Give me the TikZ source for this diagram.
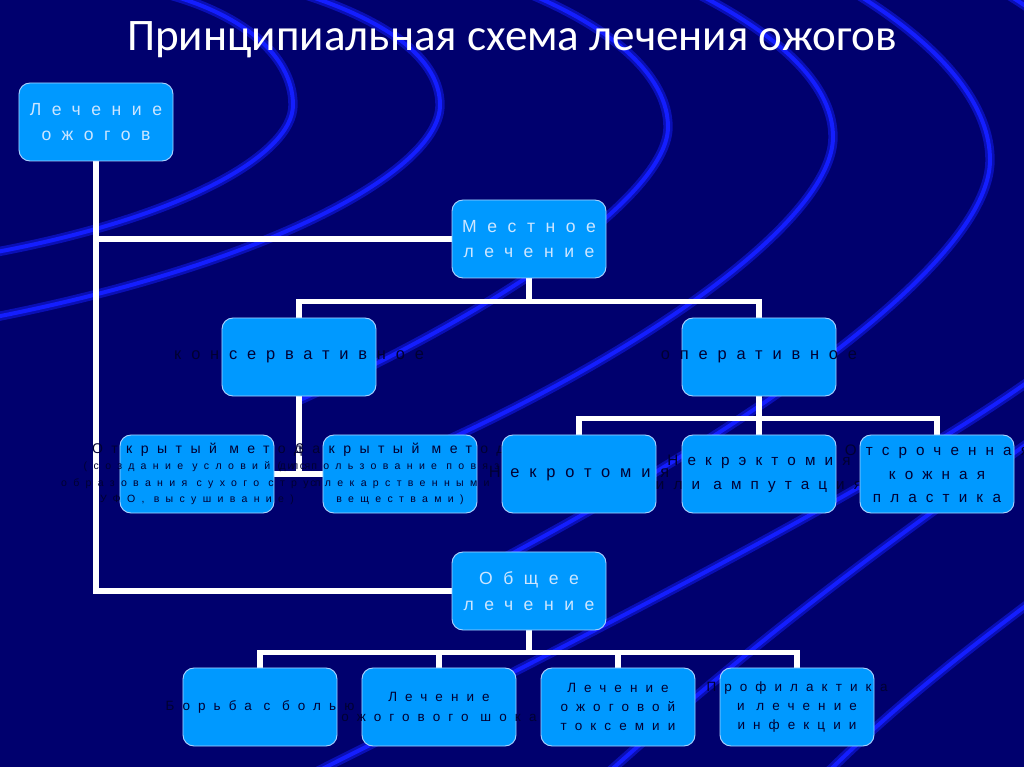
\documentclass[tikz,border=0pt]{standalone}
\usepackage{fontspec}
\setmainfont{Liberation Sans}
\newfontfamily\titlefont{Carlito}
\newfontfamily\boxfont[LetterSpace=60]{Liberation Sans}
\usetikzlibrary{backgrounds}

\definecolor{bgnavy}{RGB}{0,0,110}
\definecolor{boxfill}{RGB}{0,153,255}
\definecolor{boxedge}{RGB}{170,210,255}
\definecolor{boxdark}{RGB}{0,0,50}
\definecolor{boxlight}{RGB}{205,230,255}
\definecolor{swirlblue}{RGB}{20,30,255}
\definecolor{swirlglow}{RGB}{10,15,180}

% overflowing line of box text
\newcommand{\spill}[1]{\makebox[0pt][c]{#1}}
\newcommand{\smalltxt}{\fontsize{9}{13}\selectfont}

\begin{document}
\begin{tikzpicture}[
    x=0.03cm, y=-0.03cm,
    box/.style={draw=boxedge, line width=0.8pt, fill=boxfill,
                rounded corners=0.33cm, minimum width=4.62cm,
                minimum height=2.34cm, inner sep=0pt, align=center,
                text=boxdark, font=\boxfont\fontsize{14}{20}\selectfont},
    headbox/.style={box, text=boxlight,
                    font=\boxfont\fontsize{15}{22}\selectfont},
    opbox/.style={box, font=\boxfont\fontsize{13}{20}\selectfont},
    methodbox/.style={box, font=\boxfont\fontsize{12}{14}\selectfont},
    subbox/.style={box, font=\boxfont\fontsize{11.5}{16.5}\selectfont},
    link/.style={draw=white, line width=5pt},
    swirl/.style={draw=swirlblue, line width=3.4pt,
                  preaction={draw=swirlglow, line width=8pt}},
  ]
  \useasboundingbox (0,0) rectangle (1024,767);

  % ── Title ──
  \node[text=white, font=\titlefont\fontsize{38.5}{42}\selectfont]
    at (512,40) (title) {Принципиальная схема лечения ожогов};

  % ── Level 0 ──
  \node[headbox] at (96,122) (root) {Лечение\\ожогов};

  % ── Local treatment ──
  \node[headbox] at (529,239) (local) {Местное\\лечение};
  \node[box] at (299,357) (konserv) {\spill{консервативное}};
  \node[box] at (759,357) (operat) {\spill{оперативное}};

  \node[methodbox] at (197,474) (open)
    {\spill{Открытый метод}\\
     \spill{\smalltxt(создание условий для}\\
     \spill{\smalltxt образования сухого струпа}\\
     \spill{\smalltxt УФО, высушивание)}};
  \node[methodbox] at (400,474) (closed)
    {\spill{Закрытый метод}\\
     \spill{\smalltxt(использование повязок}\\
     \spill{\smalltxt с лекарственными}\\
     \spill{\smalltxt веществами)}};

  \node[box] at (579,474) (necrot) {\spill{Некротомия}};
  \node[opbox] at (759,474) (necrect)
    {\spill{Некрэктомия}\\\spill{или ампутация}};
  \node[opbox] at (937,474) (otsroch)
    {\spill{Отсроченная}\\\spill{кожная}\\\spill{пластика}};

  % ── General treatment ──
  \node[headbox] at (529,591) (general) {Общее\\лечение};
  \node[subbox] at (260,707) (pain) {\spill{Борьба с болью}};
  \node[subbox] at (439,707) (shock)
    {\spill{Лечение}\\\spill{ожогового шока}};
  \node[subbox] at (618,707) (toxem)
    {\spill{Лечение}\\\spill{ожоговой}\\\spill{токсемии}};
  \node[subbox] at (797,707) (infect)
    {\spill{Профилактика}\\\spill{и лечение}\\\spill{инфекции}};

  \begin{scope}[on background layer]
    \fill[bgnavy] (0,0) rectangle (1024,767);

    % ── Swirls ──
    \begin{scope}
      \clip (0,0) rectangle (1024,767);
      \draw[swirl] (150,-10) .. controls (240,10) and (293,55) .. (293,105)
        .. controls (293,155) and (180,220) .. (-20,255);
      \draw[swirl] (290,-10) .. controls (390,20) and (440,60) .. (440,105)
        .. controls (440,170) and (270,265) .. (-20,320);
      \draw[swirl] (520,-10) .. controls (620,30) and (668,80) .. (668,127)
        .. controls (668,190) and (520,300) .. (300,400);
      \draw[swirl] (690,-10) .. controls (790,40) and (833,90) .. (833,137)
        .. controls (833,220) and (640,360) .. (380,470);
      \draw[swirl] (850,-10) .. controls (950,50) and (990,110) .. (990,160)
        .. controls (990,250) and (800,400) .. (500,560);
      \draw[swirl] (1000,-10) .. controls (1120,60) and (1160,150) .. (1160,230)
        .. controls (1160,330) and (900,480) .. (300,780);
      \draw[swirl] (1060,420) .. controls (950,500) and (800,600) .. (600,780);
      \draw[swirl] (1060,580) .. controls (980,640) and (900,700) .. (820,780);
    \end{scope}

    % ── Links ──
    \draw[link] (root.south) |- (general.west);
    \draw[link] (root.south |- local.west) -- (local.west);

    \draw[link] (local.south) -- ++(0,23) -| (konserv.north);
    \draw[link] (local.south) -- ++(0,23) -| (operat.north);

    \draw[link] (konserv.south) |- (open.east);
    \draw[link] (konserv.south) |- (closed.west);

    \draw[link] (operat.south) -- ++(0,22) -| (necrot.north);
    \draw[link] (operat.south) -- ++(0,22) -| (necrect.north);
    \draw[link] (operat.south) -- ++(0,22) -| (otsroch.north);

    \draw[link] (general.south) -- ++(0,22) -| (pain.north);
    \draw[link] (general.south) -- ++(0,22) -| (shock.north);
    \draw[link] (general.south) -- ++(0,22) -| (toxem.north);
    \draw[link] (general.south) -- ++(0,22) -| (infect.north);
  \end{scope}

\end{tikzpicture}
\end{document}
